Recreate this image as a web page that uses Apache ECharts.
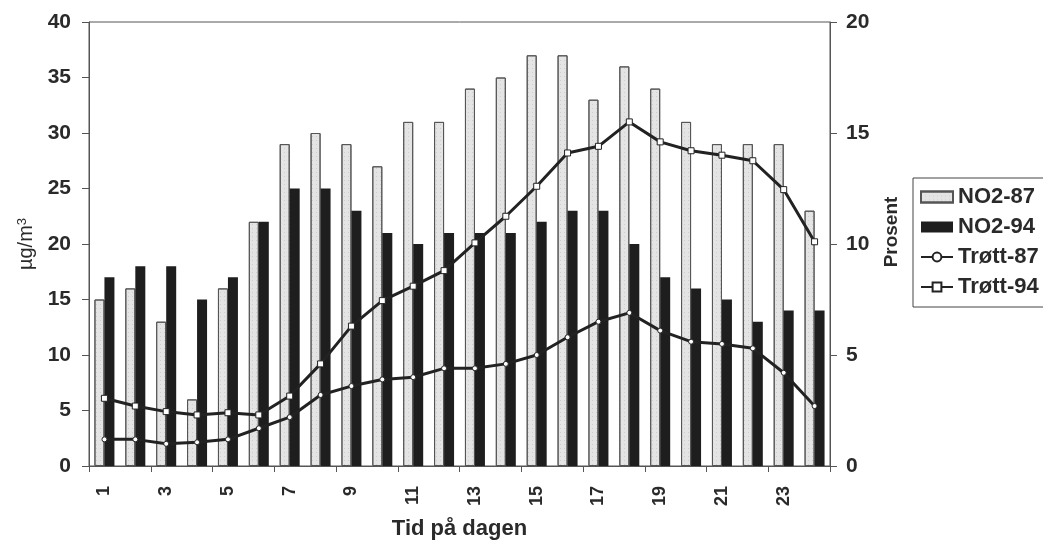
<!DOCTYPE html>
<html><head><meta charset="utf-8">
<script src="https://cdn.jsdelivr.net/npm/echarts@6/dist/echarts.min.js"></script>
<style>html,body{margin:0;padding:0;background:#fff}#c{width:1043px;height:542px}</style>
</head><body><div id="c"></div>
<script>
const hours = ['1','2','3','4','5','6','7','8','9','10','11','12','13','14','15','16','17','18','19','20','21','22','23','24'];
const no2_87 = [15,16,13,6,16,22,29,30,29,27,31,31,34,35,37,37,33,36,34,31,29,29,29,23];
const no2_94 = [17,18,18,15,17,22,25,25,23,21,20,21,21,21,22,23,23,20,17,16,15,13,14,14];
const trott87 = [1.2,1.2,1.0,1.07,1.2,1.7,2.2,3.2,3.6,3.9,4.0,4.4,4.4,4.6,5.0,5.8,6.5,6.9,6.1,5.6,5.5,5.3,4.2,2.7];
const trott94 = [3.05,2.7,2.45,2.3,2.4,2.3,3.15,4.6,6.3,7.45,8.1,8.8,10.05,11.25,12.6,14.1,14.4,15.5,14.6,14.2,14.0,13.75,12.45,10.1];
const leftTicks = {min:0,max:40,interval:5};
const rightTicks = {min:0,max:20,interval:5};

const font = 'Liberation Sans, Arial, sans-serif';
const txt = '#2a2a2a';
const chart = echarts.init(document.getElementById('c'));
chart.setOption({
  animation:false,
  backgroundColor:'#fff',
  textStyle:{fontFamily:font},
  grid:{left:89,right:213,top:22,bottom:76,outerBoundsMode:'none',containLabel:false,show:true,borderColor:'#555',borderWidth:1,backgroundColor:'transparent'},
  legend:{
    orient:'vertical', left:913, top:178, padding:[8,20,9,7], itemGap:8,
    borderColor:'#444', borderWidth:1, itemWidth:32, itemHeight:11,
    textStyle:{fontFamily:font,fontSize:22,fontWeight:'bold',color:txt},
    data:[{name:'NO2-87',icon:'rect'},{name:'NO2-94',icon:'rect'},'Trøtt-87','Trøtt-94']
  },
  graphic:[{type:'text',x:892,y:232,rotation:Math.PI/2,
    style:{text:'Prosent',font:'bold 19px Liberation Sans, Arial, sans-serif',fill:txt,align:'center',verticalAlign:'middle'}}],
  xAxis:{
    type:'category', data:hours, name:'Tid på dagen', nameLocation:'middle', nameGap:52,
    nameTextStyle:{fontFamily:font,fontSize:22,fontWeight:'bold',color:txt},
    axisLine:{lineStyle:{color:'#555',width:1}},
    axisTick:{show:true,length:6,lineStyle:{color:'#555'}},
    axisLabel:{rotate:90,interval:1,fontFamily:font,fontSize:18,fontWeight:'bold',color:txt,margin:20}
  },
  yAxis:[{
    type:'value', min:leftTicks.min, max:leftTicks.max, interval:leftTicks.interval,
    name:'µg/m{s|3}', nameLocation:'middle', nameGap:46, nameRotate:90,
    nameTextStyle:{fontFamily:font,fontSize:20,color:txt,
      rich:{s:{fontFamily:font,fontSize:13,color:txt,verticalAlign:'top',padding:[0,0,8,0]}}},
    axisLine:{show:true,lineStyle:{color:'#555'}},
    axisTick:{show:true,length:7,lineStyle:{color:'#555'}},
    splitLine:{show:false},
    axisLabel:{fontFamily:font,fontSize:21,fontWeight:'bold',color:txt,margin:18}
  },{
    type:'value', min:rightTicks.min, max:rightTicks.max, interval:rightTicks.interval, position:'right',
    axisLine:{show:true,lineStyle:{color:'#555'}},
    axisTick:{show:true,length:7,lineStyle:{color:'#555'}},
    splitLine:{show:false},
    axisLabel:{fontFamily:font,fontSize:21,fontWeight:'bold',color:txt,margin:16}
  }],
  series:[
    {name:'NO2-87',type:'bar',data:no2_87,barWidth:10,barGap:'0%',
     itemStyle:{color:'#e4e4e4',borderColor:'#555',borderWidth:1,
       decal:{symbol:'rect',symbolSize:0.6,dashArrayX:[1,3],dashArrayY:[1,3],color:'#999'}}},
    {name:'NO2-94',type:'bar',data:no2_94,barWidth:10,barGap:'0%',
     itemStyle:{color:'#1e1e1e'}},
    {name:'Trøtt-87',type:'line',yAxisIndex:1,data:trott87,symbol:'circle',symbolSize:5,
     lineStyle:{color:'#222',width:3},itemStyle:{color:'#fff',borderColor:'#222',borderWidth:1}},
    {name:'Trøtt-94',type:'line',yAxisIndex:1,data:trott94,symbol:'rect',symbolSize:6,
     lineStyle:{color:'#222',width:3},itemStyle:{color:'#fff',borderColor:'#222',borderWidth:1}}
  ]
});
</script></body></html>
